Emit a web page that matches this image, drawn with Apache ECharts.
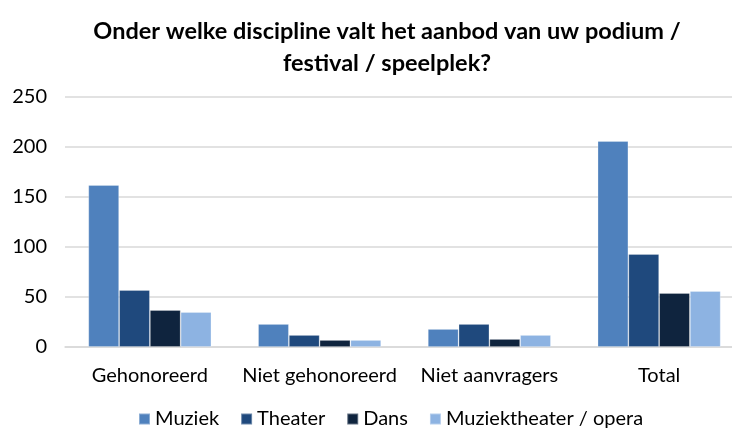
<!DOCTYPE html>
<html>
<head>
<meta charset="utf-8">
<script src="https://cdn.jsdelivr.net/npm/echarts@6/dist/echarts.min.js"></script>
<style>
  html, body { margin: 0; padding: 0; background: #fff; }
  #chart { width: 732px; height: 428px; }
</style>
</head>
<body>
<div id="chart"></div>
<script>
// Categories and series values
const categories = ['Gehonoreerd', 'Niet gehonoreerd', 'Niet aanvragers', 'Total'];
const muziek = [162, 23, 18, 206];
const theater = [57, 12, 23, 93];
const dans = [37, 7, 8, 54];
const muziektheater = [35, 7, 12, 56];
const seriesNames = ['Muziek', 'Theater', 'Dans', 'Muziektheater / opera'];
const yTicks = [0, 50, 100, 150, 200, 250];

const colors = ['#4F81BD', '#1F497D', '#0F243E', '#8DB3E2'];
const font = 'Lato, "Open Sans", sans-serif';

const chart = echarts.init(document.getElementById('chart'));
const values = [muziek, theater, dans, muziektheater];

chart.setOption({
  animation: false,
  title: {
    text: 'Onder welke discipline valt het aanbod van uw podium /\nfestival / speelplek?',
    left: 382,
    textAlign: 'center',
    top: 10,
    textStyle: { fontFamily: font, fontSize: 23.5, fontWeight: 'bold', color: '#000', lineHeight: 32 }
  },
  legend: {
    top: 404,
    left: 133,
    width: 600,
    itemWidth: 11,
    itemHeight: 11,
    itemGap: 21,
    icon: 'rect',
    textStyle: { fontFamily: font, fontSize: 20, color: '#000' },
    data: seriesNames
  },
  grid: { left: 65, width: 679, top: 97, bottom: 81, outerBoundsMode: 'none' },
  xAxis: {
    type: 'category',
    data: categories,
    axisTick: { show: false },
    axisLine: { lineStyle: { color: '#d9d9d9', width: 1.5 } },
    axisLabel: { fontFamily: font, fontSize: 20, color: '#000', margin: 19, interval: 0 }
  },
  yAxis: {
    type: 'value',
    min: yTicks[0],
    max: yTicks[yTicks.length - 1],
    interval: 50,
    axisLine: { show: false },
    axisTick: { show: false },
    splitLine: { lineStyle: { color: '#d9d9d9', width: 1.5 } },
    axisLabel: { fontFamily: font, fontSize: 20, color: '#000', margin: 18 }
  },
  series: seriesNames.map((name, i) => ({
    name: name,
    type: 'bar',
    data: values[i],
    barGap: '0%',
    barCategoryGap: '27.5%',
    itemStyle: { color: colors[i], borderColor: 'rgba(255,255,255,0.35)', borderWidth: 0.8 }
  }))
});
</script>
</body>
</html>
